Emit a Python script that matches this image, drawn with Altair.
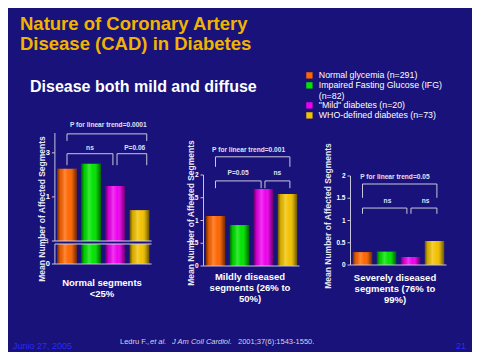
import altair as alt
import pandas as pd

FONT = "Liberation Sans"
BG = "#18127a"
W, H = 464, 344

# ---------------- data ----------------
groups = ["Normal glycemia (n=291)", "Impaired Fasting Glucose (IFG) (n=82)",
          '"Mild" diabetes (n=20)', "WHO-defined diabetes (n=73)"]
colors = ["#ff6600", "#00e400", "#ee00ee", "#f2c200"]

normal_means = [11.64, 11.75, 11.25, 10.70]
mild_means = [1.10, 0.90, 1.69, 1.58]
severe_means = [0.29, 0.30, 0.18, 0.54]

normal_ticks_upper = [10, 11, 12]
normal_tick_labels_upper = ["", "1", "3"]
normal_ticks_lower = [0]
normal_tick_labels_lower = ["0"]
small_ticks = [0, 0.5, 1, 1.5, 2]
small_tick_labels = ["0", "0.5", "1", "1.5", "2"]

# brackets: (from bar, to bar, level, drop-to, label, label x, label level)
normal_brackets = [(0, 3.3, 12.43, 12.27, "P for linear trend=0.0001", 1.71, 12.64),
                   (0, 1.9, 11.98, 11.72, "ns", 0.95, 12.11),
                   (2.07, 3.3, 11.98, 11.72, "P=0.06", 2.8, 12.11)]
mild_brackets = [(0, 3.1, 2.40, 2.18, "P for linear trend=0.001", 1.38, 2.55),
                 (0, 1.9, 1.87, 1.71, "P=0.05", 0.94, 2.04),
                 (2.06, 3.1, 1.87, 1.71, "ns", 2.58, 2.04)]
severe_brackets = [(0, 3.1, 1.82, 1.51, "P for linear trend=0.05", 1.35, 1.98),
                   (0, 1.85, 1.28, 1.15, "ns", 1.04, 1.44),
                   (2.02, 3.1, 1.28, 1.15, "ns", 2.63, 1.44)]

legend = alt.Legend(
    orient="none", legendX=297, legendY=63, title=None, symbolType="square",
    symbolSize=40, symbolStrokeWidth=0, labelFont=FONT, labelFontSize=8.8,
    labelColor="white", labelLimit=250, labelOffset=5, rowPadding=0,
    labelExpr="datum.label == 'Impaired Fasting Glucose (IFG) (n=82)' ? "
              "['Impaired Fasting Glucose (IFG)', '(n=82)'] : datum.label",
)

shade = alt.Gradient(
    gradient="linear", x1=0, x2=1, y1=0, y2=0,
    stops=[alt.GradientStop(color="rgba(0,0,0,0.55)", offset=0),
           alt.GradientStop(color="rgba(0,0,0,0.1)", offset=0.15),
           alt.GradientStop(color="rgba(255,255,255,0.22)", offset=0.38),
           alt.GradientStop(color="rgba(255,255,255,0.0)", offset=0.6),
           alt.GradientStop(color="rgba(0,0,0,0.25)", offset=0.85),
           alt.GradientStop(color="rgba(0,0,0,0.55)", offset=1)],
)

AXC = "#c4c4dc"


def axis_layers(xs, ys, ticks, labels, dom, size, baseline=True):
    tk = pd.DataFrame({"v": ticks, "t": labels, "a": [-0.5] * len(ticks)})
    dm = pd.DataFrame({"a": [-0.5], "b": [3.5], "lo": [dom[0]], "hi": [dom[1]]})
    X = lambda f: alt.X(f, scale=xs, axis=None)
    Y = lambda f: alt.Y(f, scale=ys, axis=None)
    out = [
        alt.Chart(dm).mark_rule(color=AXC, strokeWidth=1).encode(x=X("a:Q"), y=Y("lo:Q"), y2="hi:Q"),
        alt.Chart(tk).mark_rule(color=AXC, strokeWidth=1, x2Offset=-3).encode(
            x=X("a:Q"), x2="a:Q", y=Y("v:Q")),
        alt.Chart(tk).mark_text(align="right", baseline="middle", dx=-5, font=FONT,
                                fontSize=size, fontWeight="bold", color="white").encode(
            x=X("a:Q"), y=Y("v:Q"), text="t:N"),
    ]
    if baseline:
        out.append(alt.Chart(dm).mark_rule(color=AXC, strokeWidth=1).encode(
            x=X("a:Q"), x2="b:Q", y=Y("lo:Q")))
    return out


def panel(means, base, xr, ydom, yr, axis_spec, brackets=None, clamp=False, extra=None):
    xs = alt.Scale(domain=[-0.5, 3.5], range=xr)
    ys = alt.Scale(domain=ydom, range=yr, clamp=clamp, zero=False, nice=False)
    df = pd.DataFrame({"group": groups, "idx": list(range(4)), "mean": means,
                       "base": [base] * 4})
    b = alt.Chart(df).transform_calculate(lo="datum.idx - 0.4", hi="datum.idx + 0.4")
    bars = b.mark_bar().encode(
        x=alt.X("lo:Q", scale=xs, axis=None), x2="hi:Q",
        y=alt.Y("mean:Q", scale=ys, axis=None), y2="base:Q",
        color=alt.Color("group:N", scale=alt.Scale(domain=groups, range=colors),
                        legend=legend),
    )
    sh = b.mark_bar(fill=shade).encode(
        x=alt.X("lo:Q", scale=xs, axis=None), x2="hi:Q",
        y=alt.Y("mean:Q", scale=ys, axis=None), y2="base:Q")
    layers = [bars, sh]
    ticks, labels, size, baseline = axis_spec
    layers.extend(axis_layers(xs, ys, ticks, labels, ydom, size, baseline))
    if brackets:
        segs = []
        labs = []
        for a, c, lv, dr, t, lx, ly in brackets:
            segs.append({"x": a, "x2": c, "y": lv, "y2": lv})
            segs.append({"x": a, "x2": a, "y": lv, "y2": dr})
            segs.append({"x": c, "x2": c, "y": lv, "y2": dr})
            labs.append({"x": lx, "y": ly, "t": t})
        layers.append(alt.Chart(pd.DataFrame(segs)).mark_rule(color="#c8c8dc", strokeWidth=1).encode(
            x=alt.X("x:Q", scale=xs, axis=None), x2="x2:Q",
            y=alt.Y("y:Q", scale=ys, axis=None), y2="y2:Q"))
        layers.append(alt.Chart(pd.DataFrame(labs)).mark_text(
            font=FONT, fontSize=6.6, fontWeight="bold", color="#e0e0ee", baseline="middle").encode(
            x=alt.X("x:Q", scale=xs, axis=None), y=alt.Y("y:Q", scale=ys, axis=None), text="t:N"))
    if extra is not None:
        layers.extend(extra(xs, ys))
    return alt.layer(*layers)


def break_upper(xs, ys):
    d = pd.DataFrame({"v": [10.0], "a": [-0.5], "b": [3.5]})
    return [
        alt.Chart(d).mark_rule(color="#d0d0e4", strokeWidth=1).encode(
            x=alt.X("a:Q", scale=xs, axis=None), x2="b:Q",
            y=alt.Y("v:Q", scale=ys, axis=None)),
        alt.Chart(pd.DataFrame({"v": [10.0], "t": ["10"]})).mark_text(
            font=FONT, fontSize=5, fontWeight="bold", color="white", angle=270,
            baseline="middle").encode(x=alt.value(38), y=alt.Y("v:Q", scale=ys, axis=None), text="t:N"),
    ]


def break_lower(xs, ys):
    d = pd.DataFrame({"v": [0.45], "a": [-0.5], "b": [3.5]})
    return [alt.Chart(d).mark_rule(color="#d0d0e4", strokeWidth=1).encode(
        x=alt.X("a:Q", scale=xs, axis=None), x2="b:Q",
        y=alt.Y("v:Q", scale=ys, axis=None))]


p1_up = panel(normal_means, 10.0, [46.9, 143.6], [10, 12.45], [233, 125],
              (normal_ticks_upper, normal_tick_labels_upper, 7.5, False),
              normal_brackets, extra=break_upper)
p1_lo = panel(normal_means, 0.0, [46.9, 143.6], [0, 0.45], [256, 236],
              (normal_ticks_lower, normal_tick_labels_lower, 7.5, True),
              clamp=True, extra=break_lower)
p2 = panel(mild_means, 0.0, [195.5, 291.5], [0, 2], [258, 167],
           (small_ticks, small_tick_labels, 6.5, True), mild_brackets)
p3 = panel(severe_means, 0.0, [342.5, 438.5], [0, 2], [257, 168],
           (small_ticks, small_tick_labels, 6.5, True), severe_brackets)


def label(text, x, y, size, color="white", weight="normal", style="normal",
          align="left", angle=0, baseline="alphabetic", lh=None):
    kw = dict(text=text, font=FONT, fontSize=size, color=color, fontWeight=weight,
              fontStyle=style, align=align, baseline=baseline, angle=angle)
    if "\n" in text:
        kw["lineBreak"] = "\n"
        kw["lineHeight"] = lh
    return alt.Chart(pd.DataFrame({"_": [0]})).mark_text(**kw).encode(
        x=alt.value(x), y=alt.value(y))


ytitle = "Mean Number of Affected Segments"
texts = [
    label("Nature of Coronary Artery", 12, 21.5, 18.5, "#f0b400", "bold"),
    label("Disease (CAD) in Diabetes", 12, 42, 18.5, "#f0b400", "bold"),
    label("Disease both mild and diffuse", 22, 84, 16, "white", "bold"),
    label(ytitle, 33.5, 201, 8.5, "#e8e8f4", "bold", align="center", angle=270, baseline="middle"),
    label(ytitle, 183, 205, 8.5, "#e8e8f4", "bold", align="center", angle=270, baseline="middle"),
    label(ytitle, 320, 208, 8.5, "#e8e8f4", "bold", align="center", angle=270, baseline="middle"),
    label("Normal segments\n<25%", 94, 277.5, 9.5, "white", "bold", align="center", lh=11),
    label("Mildly diseased\nsegments (26% to\n50%)", 242, 271.5, 9.5, "white", "bold", align="center", lh=11),
    label("Severely diseased\nsegments (76% to\n99%)", 387, 272.5, 9.5, "white", "bold", align="center", lh=11),
    label("Junio 27, 2005", 5, 341, 9, "#2a2aff"),
    label("21", 448, 341, 9, "#2a2aff"),
    label("Ledru F.,", 112, 335.5, 7.5, "#d4d4e4"),
    label("et al.", 142, 335.5, 7.5, "#d4d4e4", style="italic"),
    label("J Am Coll Cardiol.", 164, 335.5, 7.5, "#d4d4e4", style="italic"),
    label("2001;37(6):1543-1550.", 230, 335.5, 7.5, "#d4d4e4"),
]

chart = alt.layer(p1_up, p1_lo, p2, p3, *texts).resolve_scale(
    x="independent", y="independent"
).properties(
    width=W, height=H, autosize=alt.AutoSizeParams(type="none"), padding=0,
    background=BG,
).configure_view(stroke=None)

chart.save("out.html", embed_options={"renderer": "svg", "actions": False})
